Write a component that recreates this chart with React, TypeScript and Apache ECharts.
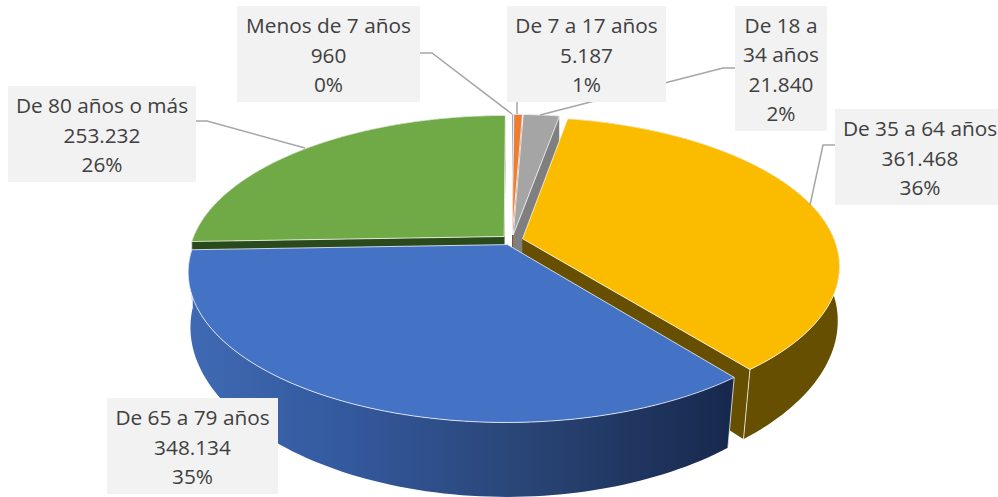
import React, { useEffect, useRef } from "react";
import * as echarts from "echarts";

const categories = ["Menos de 7 años", "De 7 a 17 años", "De 18 a\n34 años", "De 35 a 64 años", "De 65 a 79 años", "De 80 años o más"];
const values = [960, 5187, 21840, 361468, 348134, 253232];
const topColors = ["#4472C4", "#ED7D31", "#A5A5A5", "#FBBC00", "#4472C4", "#6FAA46"];
const wallColors = ["#2A4678", "#8C4A1C", "#7F7F7F", "#664F00", "#2A4678", "#2A4A1C"];
const paintOrder = [5, 0, 1, 2, 3, 4];

// label box [x, y, width, height] and leader polyline, per category
const labelBoxes = [
  [237, 6, 183, 96],
  [507, 6, 159, 96],
  [735, 6, 92, 125],
  [835, 109, 170, 96],
  [107, 398, 171, 96],
  [8, 86, 188, 96],
];
const leaders = [
  [[420, 53], [432, 53], [512, 114]],
  [[517, 102], [517, 114]],
  [[735, 68], [723, 68], [540, 115]],
  [[835, 145], [823, 145], [810, 205]],
  [],
  [[196, 121], [207, 121], [305, 148]],
];

const total = values.reduce((a, b) => a + b, 0);
const CX = 512, CY = 240, R = 312, H = 144, K = 0.18, EXPLODE = 0.035;

const project = (u: number, v: number, bottom: boolean) => {
  const s = 1 / (1 + K * v);
  const x = R * u * s;
  const y = -H * v * s;
  if (!bottom) return [CX + x, CY + y];
  const shrink = 1 + 0.035 * Math.min(v, 0);
  return [CX + x * shrink, CY + y + 58 + 0.09 * y];
};

const fmt = (n: number) => String(n).replace(/\B(?=(\d{3})+(?!\d))/g, ".");

const renderItem = (_params: any, api: any) => {
  const i = api.value(0) as number;
  let before = 0;
  for (let j = 0; j < i; j++) before += values[j];
  const a0 = (before / total) * Math.PI * 2;
  const a1 = ((before + values[i]) / total) * Math.PI * 2;
  const mid = (a0 + a1) / 2;
  const ox = Math.sin(mid) * EXPLODE, oy = Math.cos(mid) * EXPLODE;
  const steps = Math.max(4, Math.ceil((a1 - a0) * 40));
  const arc = (bottom: boolean) => {
    const pts: number[][] = [];
    for (let k = 0; k <= steps; k++) {
      const a = a0 + ((a1 - a0) * k) / steps;
      pts.push(project(Math.sin(a) + ox, Math.cos(a) + oy, bottom));
    }
    return pts;
  };
  const topArc = arc(false), botArc = arc(true);
  const apexT = project(ox, oy, false), apexB = project(ox, oy, true);
  const wall = wallColors[i];
  const wallFill: any = i === 4
    ? new echarts.graphic.LinearGradient(0, 0, 1, 0, [
        { offset: 0, color: "#3F6AB3" },
        { offset: 0.3, color: "#33589C" },
        { offset: 0.6, color: "#2A4678" },
        { offset: 1, color: "#17284C" },
      ])
    : wall;
  const edge = "rgba(255,255,255,0.75)";
  const children: any[] = [];
  // radial walls
  children.push({ type: "polygon", shape: { points: [apexT, topArc[0], botArc[0], apexB] }, style: { fill: wall } });
  children.push({ type: "polygon", shape: { points: [apexT, topArc[steps], botArc[steps], apexB] }, style: { fill: wall } });
  // outer wall
  children.push({ type: "polygon", shape: { points: [...topArc, ...botArc.slice().reverse()] }, style: { fill: wallFill } });
  // corner edges
  [0, steps].forEach((k) =>
    children.push({
      type: "line",
      shape: { x1: topArc[k][0], y1: topArc[k][1], x2: botArc[k][0], y2: botArc[k][1] },
      style: { stroke: edge, lineWidth: 1 },
    })
  );
  // top face
  children.push({
    type: "polygon",
    shape: { points: [apexT, ...topArc] },
    style: { fill: topColors[i], stroke: edge, lineWidth: 1 },
  });
  return { type: "group", children };
};

export default function App() {
  const ref = useRef<HTMLDivElement>(null);
  useEffect(() => {
    const chart = echarts.init(ref.current!, null, { renderer: "svg" });
    const graphics: any[] = [];
    leaders.forEach((pts) => {
      if (pts.length)
        graphics.push({ type: "polyline", z: 10, shape: { points: pts }, style: { stroke: "#A6A6A6", lineWidth: 1.5, fill: "none" } });
    });
    categories.forEach((name, i) => {
      const [x, y, w, h] = labelBoxes[i];
      graphics.push({ type: "rect", z: 11, shape: { x, y, width: w, height: h }, style: { fill: "#F2F2F2" } });
      graphics.push({
        type: "text",
        z: 12,
        x: x + w / 2,
        y: y + h / 2 + 0.5,
        style: {
          text: `${name}\n${fmt(values[i])}\n${Math.round((values[i] / total) * 100)}%`,
          align: "center",
          verticalAlign: "middle",
          fontFamily: "Open Sans",
          fontSize: 20.8,
          lineHeight: 29.3,
          fill: "#404040",
        },
      });
    });
    chart.setOption({
      animation: false,
      backgroundColor: "#FFFFFF",
      series: [
        {
          type: "custom",
          coordinateSystem: "none",
          silent: true,
          clip: false,
          data: paintOrder.map((i) => [i, values[i]]),
          renderItem,
        },
      ],
      graphic: { elements: graphics },
    });
    return () => chart.dispose();
  }, []);
  return <div ref={ref} style={{ position: "absolute", left: 0, top: 0, width: 998, height: 497 }} />;
}
